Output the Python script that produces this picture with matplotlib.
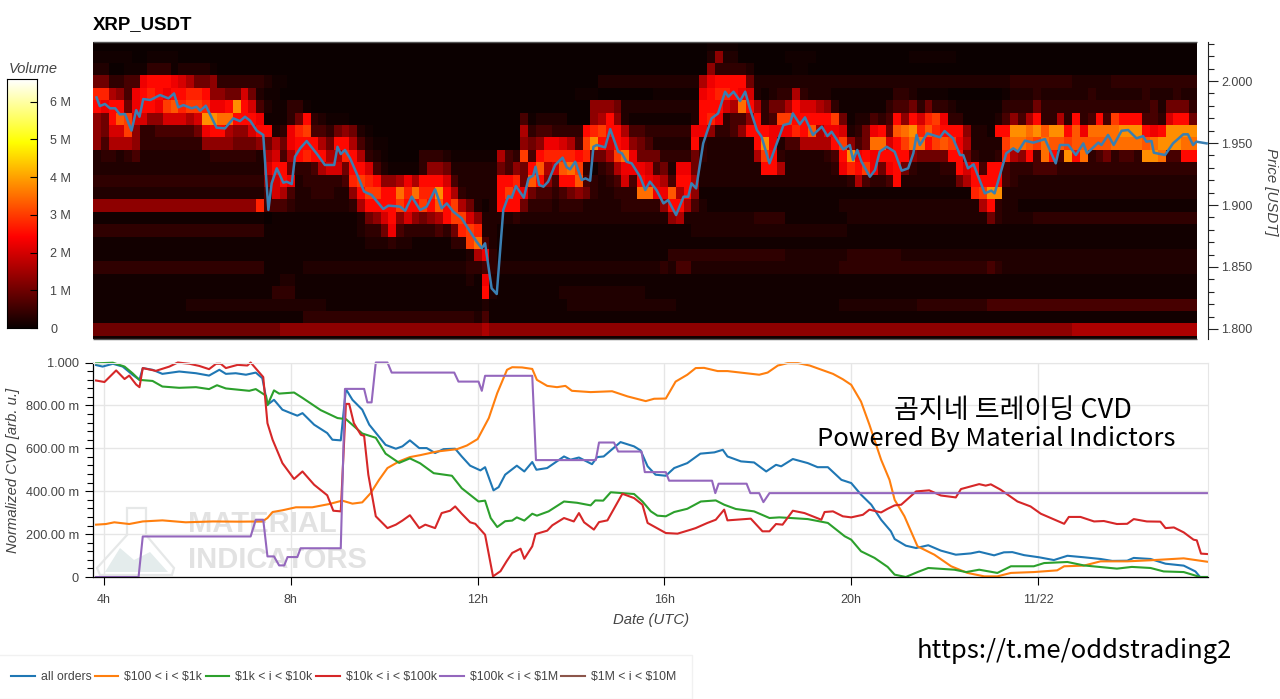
import numpy as np
import matplotlib
matplotlib.use("Agg")
import matplotlib.pyplot as plt
from matplotlib.patches import Polygon
from matplotlib.ticker import MultipleLocator, FixedLocator

plt.rcParams['font.family'] = ['Liberation Sans', 'DejaVu Sans']

### heatmap, one string per price row (top row first), one char per 10 min
### each hex digit picks a volume from heat_levels, space every hour just to keep it readable
heat_rows = [
    "000000 000000 000000 000000 000000 000000 000000 000000 000000 000000 000000 000000 000000 011110 000000 000000 000000 000000 000000 000000 000000 000000 000000 0000",
    "111110 011110 000000 000000 000000 000000 000000 000000 000000 000000 000000 000000 000000 026220 000001 111000 000000 000111 111000 000000 000000 000000 000000 0000",
    "220011 133312 222100 000000 000000 000000 000000 000000 000000 000000 000000 000000 000000 063333 200000 110000 000000 000000 000000 000000 000000 000000 000000 0000",
    "553344 9aaa98 755633 333321 100000 000000 000000 000000 000000 000000 000002 222222 222222 79aaaa 522222 222222 222222 222222 222222 222233 333333 222223 333333 3333",
    "bb7649 aba9aa bba665 585211 000000 000000 000000 000000 000000 000000 001110 000000 111111 9abba9 821233 732221 111111 133211 110000 000122 232222 223222 222322 2322",
    "a9aa59 aa9cdb ccb99a fa8421 133100 000000 000000 000000 000000 000000 000066 652222 222222 aaa87e a73557 a88763 111111 344535 332111 111333 353333 333333 333342 5553",
    "65adc8 866888 78ffee aaa911 135a32 111000 000000 000000 000000 041222 200067 a62111 111112 ab9344 6a34cc aaaaac 512243 4a6a8b c93311 112464 7a3373 a34a4c aaa443 8aa5",
    "6588c6 334444 459aa7 668aa2 39bc44 356521 000000 000000 000000 073443 333abc aa7443 333339 963346 aaa999 bad799 82359a 5defbd baaa62 21aaff efdffa d9eeee fffa9a ffff",
    "647776 333333 336666 555657 59aaa7 5aa742 110000 000000 000000 065699 874cfa 8a9654 22222a 322222 2af924 47777a c645ee 8aceea cdc972 222cee dceddc ddddde eeedef ffee",
    "233234 222222 222333 333278 47abaa 77ba73 210000 333211 111174 3c4abb bbab55 7ce955 533335 322222 27ca32 222234 af9a9a aaa655 55aa53 223b76 a4ea4f ae3453 443ffe 44aa",
    "222222 222222 222222 22228a a53347 885aa8 421111 366522 222254 65ad78 dec313 479998 452995 222222 22aa72 222223 9bac95 9a5322 233a8a 4aa433 344433 333333 333333 3333",
    "333333 333333 333333 333368 a92333 334bcb a66797 aaa842 2222aa b5da64 aad432 3484a9 874aa7 222222 222222 222222 237433 4a2222 22257a aaa432 222222 222222 222222 2222",
    "222222 222222 222222 222248 742233 3226ac caaebe bbfa73 2222ac a95443 456532 2333ee 99d7a6 111111 111111 111111 111111 111111 11111b cff222 222222 222222 222222 2222",
    "666666 666666 666666 666b44 432222 22237a aaacaa cadac7 5212aa a53332 333222 223333 36aa74 211111 111111 111111 222222 222222 222222 7a3221 111111 111111 111111 1111",
    "111111 111111 111111 111101 111111 111125 68a686 567acc 862222 322222 222222 222222 226722 222222 233331 111111 122222 222222 222222 253222 233333 333333 333333 3333",
    "333333 333333 333333 333311 111111 111123 359433 33435b cb2211 111111 111111 111111 111112 222222 222222 222222 211111 111111 111111 111111 111111 111111 111111 1111",
    "111111 111111 111111 111111 111111 111112 223221 111133 ce4211 111111 111111 111111 111111 111111 111111 111111 111111 111111 111111 111111 111111 111111 111111 1111",
    "111111 111111 111111 111111 111111 111111 111111 111111 279311 111111 111111 111111 113333 333333 333332 222222 233333 332222 222222 222222 222222 222222 222222 2222",
    "333333 333333 333333 333311 111222 222222 222222 222222 334322 222222 222222 222222 232442 222222 222222 222222 333333 333333 333333 343222 222222 222222 222222 2222",
    "111111 111111 111111 111111 221111 111111 111111 111111 219211 111111 111111 111111 111111 111111 111111 111111 111111 111111 111111 111111 111111 111111 111111 1111",
    "111111 111111 111111 111113 331111 111111 111111 111111 11a211 111111 222222 222221 111111 111111 111111 111111 111111 111111 111111 111111 111111 111111 111111 1111",
    "111111 111111 222222 222222 222222 111111 111111 111111 112111 111111 122222 222222 222111 111111 111111 111111 222222 222233 333333 344444 444444 444444 444444 4444",
    "111111 111111 111111 111111 111333 333333 333333 333333 324111 111111 111111 111111 111111 111111 111111 111111 111111 111111 111111 111111 111111 111111 111111 1111",
    "555555 555555 555555 555555 666666 666666 666666 666666 667666 666666 666666 666666 666666 666666 666666 666666 666666 666666 666666 666666 666666 777777 777777 7777",
    "111111 111111 111111 111111 111111 111111 111111 111111 111111 111111 111111 111111 111111 111111 111111 111111 111111 111111 111111 111111 111111 111111 111111 1111",
]
heat_levels = [0.02e6, 0.1e6, 0.22e6, 0.38e6, 0.6e6, 1.0e6, 1.3e6, 1.6e6, 2.0e6, 2.25e6, 2.5e6, 2.75e6, 3.0e6, 3.25e6, 3.5e6, 3.8e6]

### price line
price_hours = [3.84,3.91,4.02,4.13,4.24,4.34,4.45,4.59,4.69,4.76,4.84,4.99,5.20,5.38,5.50,5.59,5.70,5.88,5.98,6.06,6.18,6.41,6.59,6.77,6.91,7.02,7.13,7.27,7.41,7.52,7.59,7.70,7.84,7.91,8.02,8.09,8.20,8.34,8.55,8.73,8.93,9.0,9.07,9.16,9.27,9.41,9.57,9.73,9.98,10.09,10.34,10.45,10.59,
    10.77,10.91,11.09,11.23,11.34,11.48,11.66,11.84,11.98,12.09,12.16,12.30,12.41,12.55,12.66,12.73,12.82,12.99,13.09,13.19,13.24,13.32,13.41,13.51,13.66,13.82,13.91,13.98,14.09,14.23,14.31,14.41,14.48,14.55,14.73,14.84,15.01,15.09,15.19,15.30,15.48,15.59,15.69,15.83,15.98,16.08,16.25,16.41,16.51,16.58,16.68,16.83,17.01,17.15,17.30,17.37,17.48,17.62,17.73,17.83,17.98,18.08,18.25,18.55,18.69,18.75,18.90,19.01,19.18,19.37,19.49,19.58,19.83,
    19.97,20.04,20.13,20.22,20.40,20.51,20.61,20.76,20.93,21.08,21.22,21.33,21.40,21.47,21.63,21.90,22.00,22.18,22.33,22.40,22.50,22.62,22.86,23.0,23.07,23.32,23.47,23.57,23.72,23.90,24.15,24.38,24.47,24.65,24.81,24.97,25.05,25.29,25.36,25.50,25.62,25.79,25.93,26.11,26.25,26.32,26.43,26.48,26.72,26.89,27.11,27.21,27.32,27.39,27.61]
price_vals = [1.9868,1.9798,1.9815,1.978,1.978,1.9731,1.9734,1.96,1.9766,1.9712,1.9855,1.9847,1.9887,1.986,1.99,1.9788,1.9806,1.978,1.9793,1.9761,1.9801,1.9624,1.9618,1.9699,1.9677,1.9712,1.968,1.96,1.9565,1.896,1.9175,1.9296,1.918,1.9188,1.9169,1.939,1.9457,1.9516,1.9417,1.9323,1.9323,1.947,1.9411,1.9444,1.9376,1.9255,1.9108,1.9081,1.8968,1.8995,1.8987,1.8954,1.9067,
    1.896,1.8987,1.9126,1.8973,1.9013,1.8946,1.8892,1.8785,1.8704,1.8651,1.8691,1.8328,1.8282,1.896,1.9073,1.9059,1.9153,1.9059,1.9215,1.9237,1.9309,1.9161,1.9148,1.9188,1.9323,1.9382,1.9304,1.9288,1.9349,1.9202,1.9215,1.9196,1.947,1.9484,1.9465,1.9613,1.943,1.9417,1.9349,1.9336,1.9228,1.9121,1.9188,1.9121,1.9013,1.904,1.8919,1.9067,1.9067,1.9175,1.9134,1.9497,1.9699,1.9739,1.9914,1.9874,1.9914,1.9839,1.9914,1.978,1.9605,1.9551,1.9336,1.9645,1.9659,1.9739,1.9651,1.9707,1.9565,1.9632,1.9556,1.9591,1.9449,
    1.9484,1.9363,1.9444,1.9349,1.9228,1.9282,1.943,1.947,1.943,1.9277,1.9296,1.9417,1.9565,1.9484,1.9578,1.9546,1.9597,1.9538,1.9403,1.9403,1.9296,1.9328,1.9094,1.9116,1.9094,1.9417,1.9457,1.943,1.9519,1.9503,1.9532,1.9336,1.9484,1.9484,1.9403,1.9497,1.9417,1.9503,1.9484,1.9565,1.9484,1.9599,1.9605,1.9538,1.9556,1.9511,1.9516,1.9422,1.9403,1.9497,1.957,1.957,1.9484,1.9511,1.9497]

### cvd series
all_hours = [3.83,3.97,4.19,4.40,4.61,4.76,4.83,5.04,5.25,5.61,5.97,6.25,6.47,6.61,6.82,7.04,7.25,7.39,7.50,7.64,7.82,8.0,8.14,8.25,8.50,8.78,8.89,9.07,9.18,9.32,9.53,9.68,10.03,10.25,10.39,10.55,
    10.75,10.91,11.09,11.27,11.52,11.66,11.84,12.06,12.16,12.34,12.45,12.59,12.84,13.0,13.17,13.26,13.49,13.85,13.99,14.17,14.45,14.56,14.70,15.06,15.35,15.49,15.64,15.81,16.03,16.21,16.49,16.77,17.07,17.25,17.35,17.64,17.92,18.18,18.39,18.50,18.75,19.07,19.28,19.50,19.79,
    20.0,20.21,20.43,20.64,20.85,20.93,21.17,21.39,21.65,21.92,22.24,22.56,22.74,23.06,23.27,23.45,23.70,24.02,24.34,24.63,24.98,25.34,25.59,25.91,26.05,26.41,26.73,27.12,27.37,27.47,27.63]
all_vals = [.988,.981,.994,.981,.943,.919,.974,.966,.947,.958,.950,.939,.966,.947,.950,.943,.953,.927,.803,.826,.780,.764,.752,.764,.710,.671,.640,.637,.876,.826,.780,.710,.616,.598,.609,.637,
    .601,.601,.578,.596,.598,.562,.519,.497,.512,.404,.419,.477,.519,.492,.536,.5,.508,.562,.547,.557,.526,.559,.562,.629,.609,.590,.516,.477,.472,.508,.531,.575,.581,.593,.562,.539,.534,.492,.523,.516,.550,.531,.512,.512,.453,
    .438,.384,.337,.267,.213,.177,.146,.135,.148,.123,.104,.110,.118,.101,.115,.116,.102,.092,.079,.099,.092,.084,.075,.076,.089,.084,.062,.053,.026,0,0]

small_hours = [3.83,4.04,4.22,4.54,4.83,5.25,5.75,6.33,6.90,7.39,7.50,7.61,7.82,8.11,8.46,8.82,9.10,9.32,9.53,9.71,9.89,10.07,10.32,10.55,
    10.77,11.13,11.56,11.77,12.0,12.24,12.42,12.63,12.74,12.95,13.17,13.27,13.49,13.70,13.88,14.02,14.42,14.88,15.21,15.60,15.78,16.03,16.24,16.49,16.67,16.85,17.14,17.35,18.03,18.21,18.43,18.64,18.86,19.11,19.61,19.82,
    20.0,20.21,20.39,20.64,20.82,20.93,21.14,21.42,21.78,22.14,22.49,22.85,23.13,23.42,23.91,24.41,24.56,24.98,25.34,25.91,26.41,27.12,27.63]
small_vals = [.244,.247,.255,.247,.259,.264,.255,.259,.258,.259,.275,.303,.311,.325,.325,.340,.356,.342,.348,.391,.453,.508,.539,.559,
    .568,.585,.596,.613,.643,.741,.857,.966,.978,.977,.970,.919,.891,.885,.891,.868,.862,.866,.842,.820,.831,.832,.911,.943,.974,.975,.960,.960,.943,.953,.986,.997,.997,.986,.947,.922,
    .896,.818,.710,.547,.453,.360,.283,.143,.104,.050,.019,.003,.003,.019,.023,.031,.050,.053,.073,.073,.078,.087,.071]

mid_hours = [3.83,4.19,4.44,4.61,4.76,5.04,5.25,5.61,5.97,6.25,6.42,6.61,7.11,7.25,7.47,7.50,7.64,7.75,8.07,8.25,8.64,9.0,9.18,9.53,9.82,10.03,10.32,10.55,
    10.77,11.06,11.45,11.66,12.02,12.16,12.28,12.42,12.59,12.74,12.84,13.0,13.17,13.27,13.52,13.85,14.13,14.42,14.52,14.69,14.85,15.35,15.53,15.71,15.85,16.03,16.21,16.49,16.78,17.10,17.28,17.53,17.92,18.25,18.46,18.71,19.07,19.50,19.86,
    20.0,20.21,20.50,20.78,20.93,21.17,21.42,21.65,22.21,22.46,22.74,23.13,23.42,23.91,24.13,24.63,24.98,25.69,26.01,26.41,26.69,27.12,27.47,27.63]
mid_vals = [.996,.999,.981,.950,.919,.914,.888,.882,.885,.876,.894,.879,.868,.876,.845,.801,.870,.855,.860,.835,.778,.741,.736,.669,.649,.575,.532,.553,
    .530,.484,.472,.414,.352,.356,.275,.233,.260,.263,.278,.263,.295,.286,.306,.352,.346,.334,.357,.356,.395,.387,.352,.306,.286,.283,.303,.318,.352,.357,.337,.317,.306,.275,.278,.275,.270,.252,.190,
    .174,.120,.089,.047,.011,0,.023,.042,.034,.023,.034,.019,.050,.050,.065,.070,.054,.039,.047,.042,.026,.023,0,0]

large_hours = [3.83,4.01,4.26,4.44,4.54,4.69,4.76,4.83,5.11,5.40,5.58,5.83,6.04,6.25,6.40,6.50,6.61,6.86,7.07,7.14,7.41,7.50,7.61,7.82,8.07,8.25,8.50,8.78,8.91,9.07,9.18,9.25,9.35,9.50,9.57,9.66,9.82,10.07,10.25,10.39,10.55,
    10.75,10.88,11.09,11.23,11.41,11.52,11.66,11.84,11.95,12.16,12.33,12.49,12.62,12.74,12.92,13.0,13.17,13.24,13.49,13.60,13.85,14.06,14.17,14.28,14.49,14.60,14.78,15.10,15.35,15.53,15.64,16.03,16.28,16.57,16.67,16.92,17.10,17.28,17.35,17.85,18.10,18.25,18.39,18.53,18.75,19.0,19.36,19.43,19.61,19.82,
    20.0,20.25,20.39,20.64,20.78,20.93,21.07,21.39,21.67,21.92,22.24,22.35,22.74,22.88,22.99,23.20,23.56,23.84,24.06,24.56,24.66,24.91,25.20,25.41,25.69,25.91,26.05,26.33,26.62,26.73,26.91,27.12,27.33,27.40,27.49,27.63]
large_vals = [.916,.909,.963,.923,.939,.897,.885,.974,.961,.981,1.0,.994,.984,.969,.994,.994,.974,.989,.986,1.0,.932,.717,.640,.531,.457,.492,.430,.381,.309,.306,.807,.807,.717,.663,.658,.477,.283,.228,.244,.263,.288,
    .228,.244,.228,.298,.309,.329,.295,.255,.248,.197,.003,.027,.073,.112,.132,.085,.143,.200,.216,.241,.275,.259,.298,.255,.221,.256,.264,.388,.368,.337,.252,.205,.202,.221,.228,.252,.267,.314,.264,.272,.213,.213,.247,.244,.309,.298,.267,.303,.306,.283,
    .278,.290,.314,.301,.318,.334,.337,.399,.404,.380,.371,.410,.433,.426,.432,.407,.352,.329,.295,.248,.280,.280,.259,.261,.247,.248,.270,.259,.258,.228,.231,.208,.174,.171,.109,.107]

xlarge_hours = [3.83,4.74,4.83,7.14,7.25,7.41,7.50,7.64,7.75,7.86,7.93,8.14,8.21,9.07,9.16,9.57,9.64,9.73,9.82,10.07,10.16,
    11.5,11.59,12.02,12.09,12.16,13.17,13.25,14.53,14.60,14.92,15.01,15.51,15.58,16.03,16.10,17.02,17.09,17.16,17.76,17.84,18.03,18.12,18.25,27.63]
xlarge_vals = [0,0,.189,.189,.267,.267,.096,.096,.054,.054,.093,.093,.134,.134,.877,.877,.814,.814,1,1,.953,
    .953,.911,.911,.868,.938,.938,.545,.545,.627,.627,.585,.585,.489,.489,.449,.449,.391,.435,.435,.391,.391,.349,.391,.391]

whale_hours = []
whale_vals = []

series_labels = ["all orders", r"\$100 < i < \$1k", r"\$1k < i < \$10k", r"\$10k < i < \$100k", r"\$100k < i < \$1M", r"\$1M < i < \$10M"]
series_colors = ["#1f77b4", "#ff7f0e", "#2ca02c", "#d62728", "#9467bd", "#8c564b"]

time_ticks = [4, 8, 12, 16, 20, 24]
time_labels = ["4h", "8h", "12h", "16h", "20h", "11/22"]
cvd_ticks = [0, 0.2, 0.4, 0.6, 0.8, 1.0]
cvd_labels = ["0", "200.00 m", "400.00 m", "600.00 m", "800.00 m", "1.000"]
vol_ticks = [0, 1e6, 2e6, 3e6, 4e6, 5e6, 6e6]
vol_labels = ["0", "1 M", "2 M", "3 M", "4 M", "5 M", "6 M"]
price_ticks = [1.80, 1.85, 1.90, 1.95, 2.00]
vol_max = 6.6e6

W, H = 1280, 699
def box(x0, y0, x1, y1):
    # pixel box (y from the top) to figure fractions
    return [x0/W, 1-y1/H, (x1-x0)/W, (y1-y0)/H]
def fxy(x, y):
    return (x/W, 1-y/H)

fig = plt.figure(figsize=(12.8, 6.99), dpi=100)
grey = "#444444"
xlim = (3.7645, 27.64)

###top heatmap
ax = fig.add_axes(box(93, 42, 1208, 339))
heat = np.array([[heat_levels[int(c, 16)] for c in r.replace(" ", "")] for r in heat_rows])
heat = heat[::-1]
t_edges = xlim[0] + np.arange(heat.shape[1]+1)/6*0.9985
p_edges = 1.7845 + np.arange(heat.shape[0]+1)*0.01
mesh = ax.pcolormesh(t_edges, p_edges, heat, cmap="hot", vmin=0, vmax=vol_max, shading="flat", rasterized=True)
ax.plot(price_hours, price_vals, color="#3a7fb2", lw=1.8, solid_joinstyle="round", clip_on=False, zorder=3)
ax.set_xlim(xlim)
ax.set_ylim(1.7919, 2.0315)
ax.hlines([1.7919, 2.0315], xlim[0], t_edges[-1], color="#555555", lw=1, clip_on=False, zorder=4)
for s in ["top", "left", "bottom"]:
    ax.spines[s].set_visible(False)
ax.spines["right"].set_color("#222222")
ax.spines["right"].set_linewidth(0.8)
ax.xaxis.set_visible(False)
ax.yaxis.tick_right()
ax.yaxis.set_major_locator(FixedLocator(price_ticks))
ax.yaxis.set_major_formatter(lambda v, p: "%.3f" % v)
ax.yaxis.set_minor_locator(MultipleLocator(0.01))
ax.tick_params(axis="y", which="major", length=7, width=0.8, color="#222222", pad=2.5, labelsize=9, labelcolor=grey)
ax.tick_params(axis="y", which="minor", length=4, width=0.8, color="#222222")
fig.text(93/W, 1-25/H, "XRP_USDT", fontsize=13.4, fontweight="bold", color="black", ha="left", va="center")
fig.text(1271/W, 1-192/H, "Price [USDT]", fontsize=10.8, style="italic", color=grey, rotation=-90, ha="center", va="center")

###colorbar
cax = fig.add_axes(box(7, 79, 36.5, 328))
gradient = np.linspace(0, vol_max, 256).reshape(-1, 1)
cax.imshow(gradient, cmap="hot", aspect="auto", origin="lower", extent=[0, 1, 0, vol_max], vmin=0, vmax=vol_max)
cax.xaxis.set_visible(False)
cax.yaxis.tick_right()
cax.set_yticks(vol_ticks)
cax.set_yticklabels(vol_labels)
cax.tick_params(axis="y", direction="in", length=5, width=0.8, pad=10, labelsize=9, labelcolor=grey)
fig.text(33/W, 1-69/H, "Volume", fontsize=10.5, style="italic", color=grey, ha="center", va="center")

###bottom cvd
ax2 = fig.add_axes(box(93, 362.5, 1208, 577))
ax2.set_xlim(xlim)
ax2.set_ylim(0, 1)

# watermark goes under the lines
flask = [(127,508),(146,508),(146,535),(174,568),(172,575),(100,575),(97,568),(127,535)]
hills = [(105,572),(120,548),(134,560),(150,552),(168,572)]
ax2.add_patch(Polygon([fxy(*p) for p in flask], closed=True, fc="none", ec="#e6e8e8", lw=1.6, transform=fig.transFigure, zorder=0.5, clip_on=False))
ax2.add_patch(Polygon([fxy(*p) for p in hills], closed=True, fc="#e4ecec", ec="none", transform=fig.transFigure, zorder=0.5, clip_on=False))
ax2.text(188/W, 1-524/H, "MATERIAL", transform=fig.transFigure, fontweight="bold", fontsize=21, color="#e2e2e2", va="center", zorder=0.5)
ax2.text(188/W, 1-560/H, "INDICATORS", transform=fig.transFigure, fontweight="bold", fontsize=21, color="#e2e2e2", va="center", zorder=0.5)

all_series = [(all_hours, all_vals), (small_hours, small_vals), (mid_hours, mid_vals), (large_hours, large_vals), (xlarge_hours, xlarge_vals), (whale_hours, whale_vals)]
lines = []
for (h, v), lab, col in zip(all_series, series_labels, series_colors):
    l, = ax2.plot(h, v, color=col, lw=1.5, label=lab, solid_joinstyle="round", clip_on=False, zorder=2)
    lines.append(l)

ax2.set_xticks(time_ticks)
ax2.set_xticklabels(time_labels)
ax2.set_yticks(cvd_ticks)
ax2.set_yticklabels(cvd_labels)
ax2.yaxis.set_minor_locator(MultipleLocator(0.04))
ax2.grid(True, which="major", color="#e6e6e6", lw=1)
ax2.set_axisbelow(True)
for s in ["top", "right"]:
    ax2.spines[s].set_color("#e6e6e6")
for s in ["left", "bottom"]:
    ax2.spines[s].set_color("black")
    ax2.spines[s].set_linewidth(0.9)
ax2.tick_params(axis="both", which="major", length=6, width=0.8, labelsize=9.2, labelcolor=grey, pad=4)
ax2.tick_params(axis="x", which="major", pad=6, labelsize=9)
ax2.tick_params(axis="y", which="minor", length=4, width=0.8)
fig.text(651/W, 1-620/H, "Date (UTC)", fontsize=10.7, style="italic", color=grey, ha="center", va="center")
fig.text(13/W, 1-470/H, "Normalized CVD [arb. u.]", fontsize=10.7, style="italic", color=grey, rotation=90, ha="center", va="center")

leg = fig.legend(handles=lines, loc="lower left", bbox_to_anchor=(-0.0035, 0), ncols=6,
    fontsize=8.8, frameon=True, fancybox=False, edgecolor="#eeeeee", borderaxespad=0, borderpad=1.3,
    handlelength=1.9, handletextpad=0.5, columnspacing=0.3)
leg.get_frame().set_linewidth(1)
for t in leg.get_texts():
    t.set_color(grey)

###pasted text over the chart
over_font = ["Noto Sans CJK KR", "DejaVu Sans"]
fig.text(1013/W, 1-410/H, "곰지네 트레이딩 CVD", family=over_font, fontsize=19.5, fontweight="medium", color="black", ha="center", va="center")
fig.text(996/W, 1-439/H, "Powered By Material Indictors", family=over_font, fontsize=18.4, fontweight="medium", color="black", ha="center", va="center")
fig.text(1074/W, 1-651/H, "https://t.me/oddstrading2", family=over_font, fontsize=18.4, fontweight="medium", color="black", ha="center", va="center")

fig.savefig("out.png", dpi=100)
